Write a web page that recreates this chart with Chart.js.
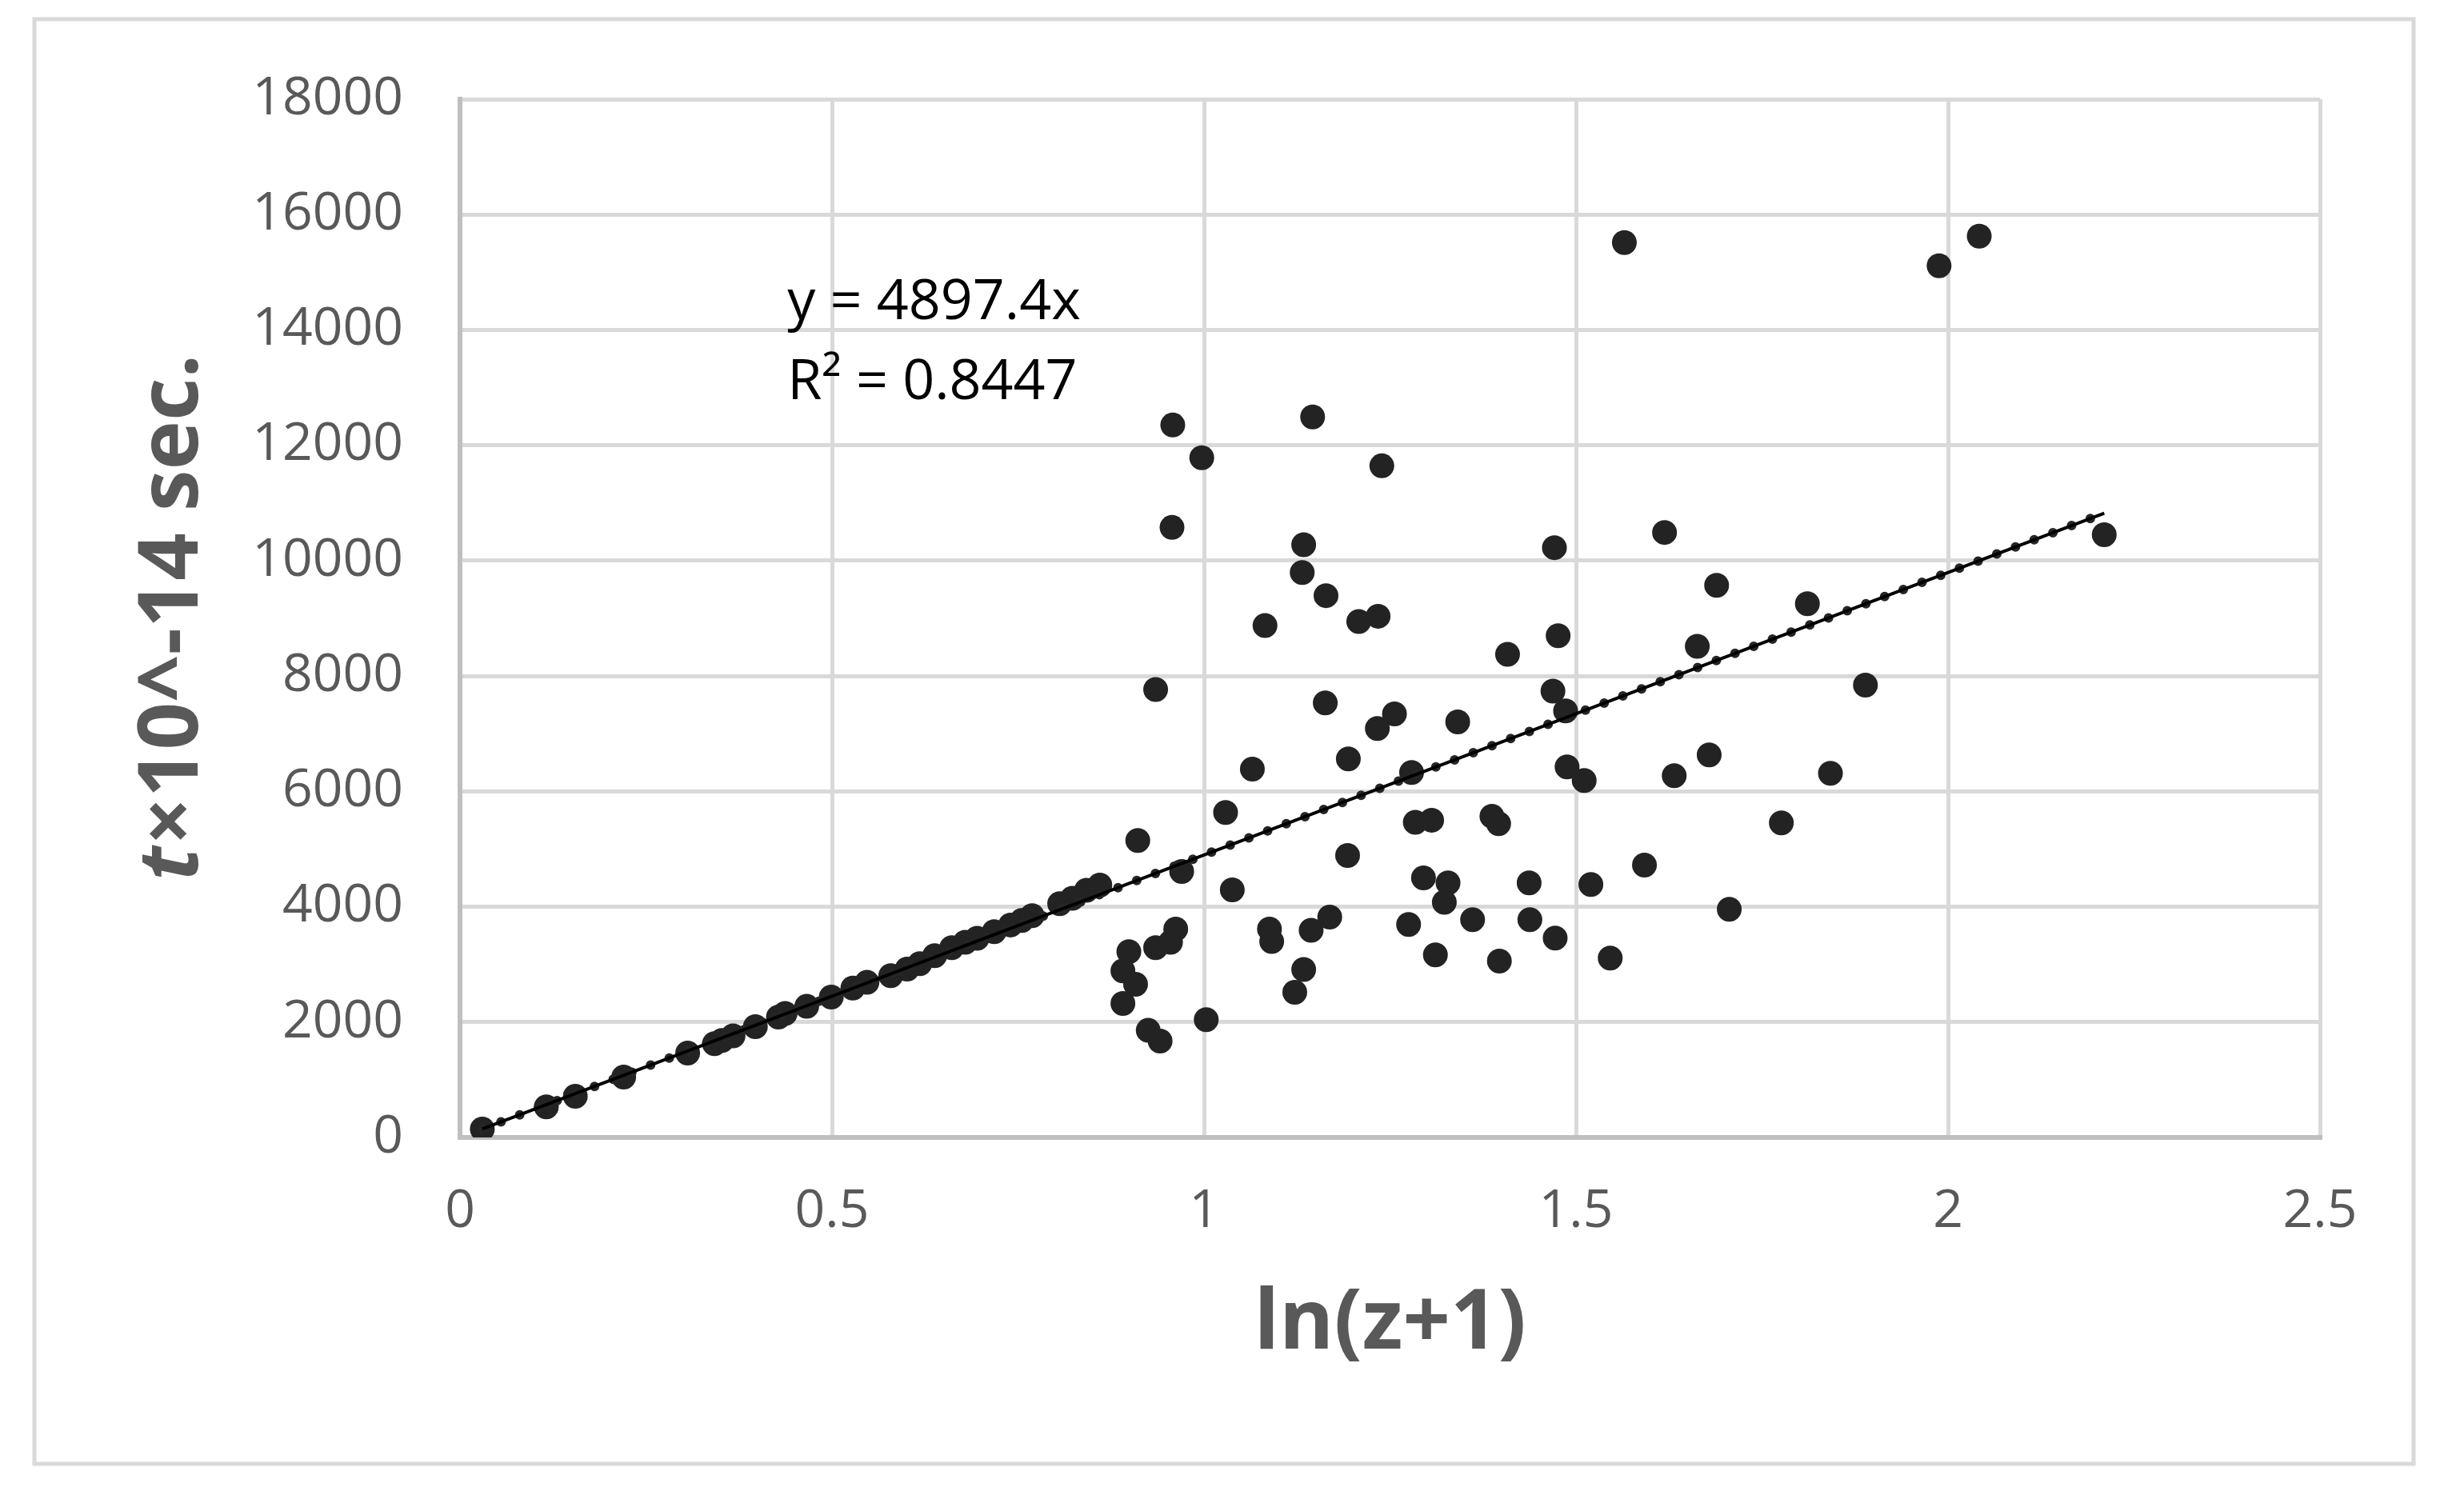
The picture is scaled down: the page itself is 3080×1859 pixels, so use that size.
<!DOCTYPE html>
<html>
<head>
<meta charset="utf-8">
<script src="https://cdn.jsdelivr.net/npm/chart.js@4"></script>
<style>
  html, body { margin: 0; padding: 0; background: #fff; }
  canvas { display: block; }
</style>
</head>
<body>
<canvas id="graphique" width="3080" height="1859"></canvas>
<script>
// ln(z+1) values
const lnZ = [
    0.030, 0.116, 0.155, 0.220, 0.306, 0.342, 0.352, 0.367, 0.397, 0.428,
    0.437, 0.466, 0.499, 0.528, 0.547, 0.579, 0.601, 0.618, 0.638, 0.661,
    0.679, 0.695, 0.718, 0.740, 0.755, 0.769, 0.806, 0.823, 0.842, 0.860,
    0.958, 1.146, 0.997, 1.239, 0.957, 1.134, 1.132, 1.164, 1.082, 1.208,
    1.234, 1.408, 0.935, 1.163, 1.256, 1.233, 1.341, 1.065, 1.194, 1.279,
    1.029, 0.911, 0.970, 1.193, 1.038, 1.284, 1.306, 1.387, 1.396, 1.295,
    1.328, 1.323, 1.275, 1.361, 1.311, 1.397, 0.962, 0.955, 0.935, 0.899,
    0.891, 0.908, 0.891, 0.925, 0.941, 1.003, 1.088, 1.091, 1.144, 1.169,
    1.134, 1.122, 1.471, 1.619, 1.689, 1.811, 1.476, 1.663, 1.469, 1.486,
    1.889, 1.488, 1.511, 1.632, 1.679, 1.842, 1.776, 1.592, 1.437, 1.520,
    1.438, 1.472, 1.546, 1.706, 1.565, 1.988, 2.042, 2.210
];
// t x 10^-14 sec.
const tSec = [
    146, 530, 714, 1047, 1463, 1626, 1680, 1760, 1920, 2087,
    2150, 2273, 2434, 2590, 2689, 2805, 2920, 3013, 3151, 3290,
    3383, 3452, 3567, 3683, 3760, 3845, 4053, 4146, 4284, 4376,
    12351, 12490, 11783, 11644, 10576, 10276, 9795, 9393, 8875, 8945,
    9036, 8376, 7766, 7534, 7344, 7090, 7205, 6387, 6563, 6327,
    5634, 5149, 4612, 4889, 4293, 5464, 5500, 5569, 5440, 4501,
    4413, 4076, 3692, 3775, 3165, 3058, 3613, 3383, 3290, 3221,
    2888, 2656, 2323, 1857, 1671, 2042, 3613, 3397, 3591, 3821,
    2911, 2517, 10225, 10489, 9573, 9254, 8699, 8515, 7738, 7395,
    7843, 6425, 6189, 6272, 6633, 6314, 5454, 4723, 4413, 4386,
    3775, 3456, 3110, 3956, 15514, 15111, 15625, 10450
];

// trendline as printed on the chart: y = 4897.4x, R² = 0.8447
const pente = 4897.4;
const r2 = "0.8447";
const trendX = [0.030, 2.210];

const xTicks = [0, 0.5, 1, 1.5, 2, 2.5];
const yTicks = [0, 2000, 4000, 6000, 8000, 10000, 12000, 14000, 16000, 18000];

const gris = "#595959";
const police = "'Open Sans', 'Noto Sans', sans-serif";

const points = lnZ.map((x, i) => ({ x: x, y: tSec[i] }));
const trend = trendX.map(x => ({ x: x, y: pente * x }));

// white page, outer frame, y title with italic t, equation label
const decor = {
    id: "decor",
    beforeDraw(chart) {
        const ctx = chart.ctx;
        ctx.save();
        ctx.fillStyle = "#fff";
        ctx.fillRect(0, 0, chart.width, chart.height);
        ctx.strokeStyle = "#d9d9d9";
        ctx.lineWidth = 5;
        ctx.strokeRect(43, 24, 2974, 1806);
        ctx.restore();
    },
    afterDraw(chart) {
        const ctx = chart.ctx;
        const area = chart.chartArea;
        const sx = chart.scales.x, sy = chart.scales.y;

        // y axis title
        ctx.save();
        ctx.translate(area.left - 358, (area.top + area.bottom) / 2);
        ctx.rotate(-Math.PI / 2);
        ctx.fillStyle = gris;
        ctx.textBaseline = "middle";
        const fItal = "italic bold 104px " + police;
        const fBold = "bold 104px " + police;
        const reste = "×10^-14 sec.";
        ctx.font = fItal;
        const w1 = ctx.measureText("t").width;
        ctx.font = fBold;
        const w2 = ctx.measureText(reste).width;
        let x0 = -(w1 + w2) / 2;
        ctx.font = fItal;
        ctx.textAlign = "left";
        ctx.fillText("t", x0, 0);
        ctx.font = fBold;
        ctx.fillText(reste, x0 + w1 + 2, 0);
        ctx.restore();

        // equation label
        ctx.save();
        ctx.fillStyle = "#000";
        ctx.font = "70px " + police;
        ctx.textAlign = "left";
        ctx.textBaseline = "alphabetic";
        const lx = sx.getPixelForValue(0.44);
        ctx.fillText("y = " + pente + "x", lx, sy.getPixelForValue(14190));
        ctx.fillText("R² = " + r2, lx, sy.getPixelForValue(12800));
        ctx.restore();
    }
};

const config = {
    type: "scatter",
    data: {
        datasets: [
            {
                type: "line",
                label: "tendance",
                data: trend,
                borderColor: "#000",
                borderWidth: 4,
                pointRadius: 0,
                fill: false,
                order: 0,
            },
            {
                type: "line",
                label: "tendance pointillés",
                data: trend,
                borderColor: "#262626",
                borderWidth: 12,
                borderDash: [0, 25],
                borderCapStyle: "round",
                pointRadius: 0,
                fill: false,
                order: 1,
            },
            {
                label: "t",
                data: points,
                backgroundColor: "#232323",
                borderWidth: 0,
                pointRadius: 15.5,
                pointHoverRadius: 15.5,
                order: 2,
            }
        ]
    },
    options: {
        responsive: false,
        devicePixelRatio: 1,
        animation: false,
        layout: { padding: { left: 155, top: 124, right: 180, bottom: 140 } },
        plugins: {
            legend: { display: false },
            tooltip: { enabled: false },
        },
        scales: {
            x: {
                type: "linear",
                min: 0,
                max: 2.5,
                afterFit: (scale) => { scale.height = 297; },
                afterBuildTicks: (scale) => { scale.ticks = xTicks.map(v => ({ value: v })); },
                grid: { color: "#d9d9d9", lineWidth: 5, drawTicks: false },
                border: { color: "#bfbfbf", width: 6 },
                ticks: {
                    padding: 54,
                    color: gris,
                    font: { family: police, size: 66 },
                    callback: (v) => String(v),
                },
                title: {
                    display: true,
                    text: "ln(z+1)",
                    color: gris,
                    padding: 0,
                    font: { family: police, size: 104, weight: "bold" },
                },
            },
            y: {
                type: "linear",
                min: 0,
                max: 18000,
                afterFit: (scale) => { scale.width = 420; },
                afterBuildTicks: (scale) => { scale.ticks = yTicks.map(v => ({ value: v })); },
                grid: { color: "#d9d9d9", lineWidth: 5, drawTicks: false },
                border: { color: "#bfbfbf", width: 6 },
                ticks: {
                    padding: 71,
                    color: gris,
                    font: { family: police, size: 66 },
                    callback: (v) => String(v),
                },
            }
        }
    },
    plugins: [decor],
};

const graph = new Chart(document.querySelector("#graphique"), config);
</script>
</body>
</html>
